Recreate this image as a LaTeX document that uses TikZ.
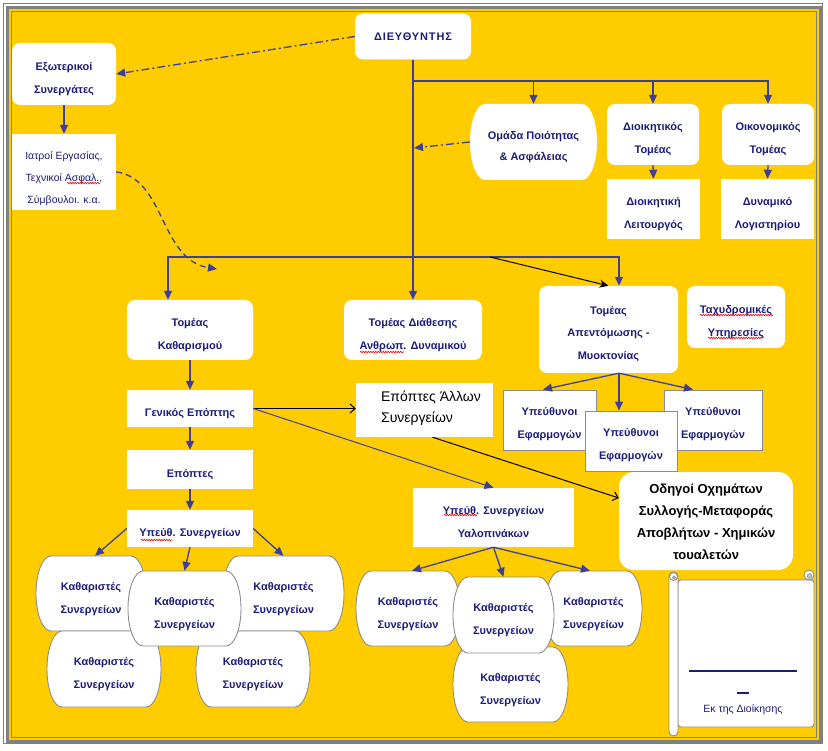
\documentclass[tikz,border=0pt]{standalone}
\usepackage{fontspec}
\setmainfont{Liberation Sans}
\newfontfamily\titlefnt[LetterSpace=8]{Liberation Sans}
\usetikzlibrary{arrows.meta,decorations.pathmorphing,calc}
\definecolor{bgyellow}{HTML}{FFCC00}
\definecolor{navytxt}{HTML}{1C1C7C}
\definecolor{arrblue}{HTML}{3F3F9A}
\definecolor{framegray}{HTML}{808080}
\definecolor{boxgray}{HTML}{8C8C8C}
\newcommand\barrelbox[7][]{%
 \pgfmathsetmacro\brlL{#3-#5/2}%
 \pgfmathsetmacro\brlR{#3+#5/2}%
 \pgfmathsetmacro\brlT{#4-#6/2}%
 \pgfmathsetmacro\brlB{#4+#6/2}%
 \pgfmathsetmacro\brlK{#6/2*0.5523}%
 \draw[barrelst,#1] (\brlL+15,\brlT) -- (\brlR-15,\brlT) .. controls (\brlR-6.7,\brlT) and (\brlR,#4-\brlK) .. (\brlR,#4) .. controls (\brlR,#4+\brlK) and (\brlR-6.7,\brlB) .. (\brlR-15,\brlB) -- (\brlL+15,\brlB) .. controls (\brlL+6.7,\brlB) and (\brlL,#4+\brlK) .. (\brlL,#4) .. controls (\brlL,#4-\brlK) and (\brlL+6.7,\brlT) .. cycle;
 \node[txt, minimum width=#5pt, minimum height=#6pt,#1] (#2) at (#3,#4) {#7};
}
\begin{document}
\begin{tikzpicture}[x=1pt,y=-1pt,
 txt/.style={align=center, inner sep=0pt, text=navytxt, font=\bfseries\fontsize{11}{23}\selectfont, text height=39pt, text depth=0pt},
 one/.style={text height=16pt},
 rbox/.style={txt, fill=white, rounded corners=8pt},
 wbox/.style={txt, fill=white},
 gbox/.style={txt, fill=white, draw=boxgray, line width=0.9pt},
 barrelst/.style={fill=white, draw=boxgray, line width=0.9pt},
 arr/.style={draw=arrblue, line width=1.3pt, -{Triangle[length=9pt,width=8pt]}},
 dd/.style={arr, dash pattern=on 8pt off 3pt on 2pt off 3pt},
 dsh/.style={arr, dash pattern=on 6pt off 4pt},
 blk/.style={draw=black, line width=1pt},
 blkopen/.style={blk, -{Straight Barb[length=5pt,width=9pt]}},
 spell/.style={draw=red, line width=0.6pt, decorate, decoration={snake, amplitude=0.8pt, segment length=2.5pt}},
 scrollst/.style={fill=white, draw=boxgray, line width=0.9pt}
]
\useasboundingbox (0,0) rectangle (828,751);
\fill[white] (0,0) rectangle (828,751);
\draw[framegray, line width=1.2pt] (3.5,3.5) rectangle (822.5,743.5);
\draw[framegray, line width=3pt] (7.5,7.5) rectangle (820,741);
\fill[bgyellow] (9,9) rectangle (818.5,739.5);
\draw[framegray, line width=0.9pt] (11.5,11.5) rectangle (816.5,737.5);

% top level
\node[rbox, minimum width=116pt, minimum height=46pt, font=\titlefnt\bfseries\fontsize{11}{12}\selectfont, text height=8pt, text depth=0pt] (dir) at (413,36.5) {ΔΙΕΥΘΥΝΤΗΣ};
\node[rbox, minimum width=104pt, minimum height=62pt] (ext) at (64,74) {Εξωτερικοί\\Συνεργάτες};
\node[wbox, minimum width=104pt, minimum height=76pt, font=\fontsize{10.5}{22}\selectfont, text height=63pt] (iat) at (64,172) {Ιατροί Εργασίας,\\Τεχνικοί Ασφαλ.,\\Σύμβουλοι. κ.α.};
\barrelbox[draw=none, font=\bfseries\fontsize{11}{21}\selectfont, text height=37pt]{qual}{533.5}{142}{127}{76}{Ομάδα Ποιότητας\\\& Ασφάλειας}
\node[rbox, minimum width=92pt, minimum height=61pt] (dioik) at (653,134.5) {Διοικητικός\\Τομέας};
\node[wbox, minimum width=93pt, minimum height=60pt] (dioikL) at (653.5,209) {Διοικητική\\Λειτουργός};
\node[rbox, minimum width=92pt, minimum height=61pt] (oik) at (768,134.5) {Οικονομικός\\Τομέας};
\node[wbox, minimum width=93pt, minimum height=60pt] (oikL) at (767.5,209) {Δυναμικό\\Λογιστηρίου};

% second level
\node[rbox, minimum width=126pt, minimum height=60pt] (kath) at (190,330) {Τομέας\\Καθαρισμού};
\node[rbox, minimum width=138pt, minimum height=60pt] (diath) at (413,330) {Τομέας Διάθεσης\\Ανθρωπ. Δυναμικού};
\node[rbox, minimum width=139pt, minimum height=87pt, font=\bfseries\fontsize{11}{22.5}\selectfont, text height=60pt] (apent) at (608.5,329.5) {Τομέας\\Απεντόμωσης -\\Μυοκτονίας};
\node[rbox, minimum width=98pt, minimum height=62pt] (tax) at (736,317) {Ταχυδρομικές\\Υπηρεσίες};

\node[gbox, minimum width=93pt, minimum height=60pt, text height=37pt] (ypL) at (549.5,420) {Υπεύθυνοι\\Εφαρμογών};
\node[gbox, minimum width=98pt, minimum height=60pt, text height=37pt] (ypR) at (713,420) {Υπεύθυνοι\\Εφαρμογών};
\node[gbox, minimum width=92pt, minimum height=60pt, text height=37pt] (ypM) at (631,441) {Υπεύθυνοι\\Εφαρμογών};

\node[wbox, one, minimum width=126pt, minimum height=37pt] (gen) at (190,408.5) {Γενικός Επόπτης};
\node[wbox, one, minimum width=126pt, minimum height=39pt] (epo) at (190,469.5) {Επόπτες};
\node[wbox, one, minimum width=126pt, minimum height=37pt] (ypsL) at (190,528.5) {Υπεύθ. Συνεργείων};
\node[fill=white, inner sep=0pt, minimum width=137pt, minimum height=54pt] (epAll) at (424.5,410) {};
\node[align=left, inner sep=0pt, text=black, font=\fontsize{14}{21}\selectfont] (epAllT) at (431,408) {Επόπτες Άλλων\\Συνεργείων};
\node[rbox, rounded corners=15pt, minimum width=174pt, minimum height=98pt, text=black, font=\bfseries\fontsize{13}{22}\selectfont, text height=77pt] (odig) at (706,521) {Οδηγοί Οχημάτων\\Συλλογής-Μεταφοράς\\Αποβλήτων - Χημικών\\τουαλετών};
\node[wbox, minimum width=161pt, minimum height=59pt] (ypsY) at (493.5,517.5) {Υπεύθ. Συνεργείων\\Υαλοπινάκων};

% left cluster
\barrelbox{l1}{91}{593.5}{110}{75}{Καθαριστές\\Συνεργείων}
\barrelbox{l2}{283.5}{593.5}{121}{75}{Καθαριστές\\Συνεργείων}
\barrelbox{l4}{104}{669}{114}{76}{Καθαριστές\\Συνεργείων}
\barrelbox{l5}{253}{669}{114}{76}{Καθαριστές\\Συνεργείων}
\barrelbox{l3}{184.5}{608.5}{113}{75}{Καθαριστές\\Συνεργείων}
% middle cluster
\barrelbox{m1}{408}{608.5}{104}{75}{Καθαριστές\\Συνεργείων}
\barrelbox{m2}{593.5}{608.5}{97}{75}{Καθαριστές\\Συνεργείων}
\barrelbox{m4}{510.5}{684.5}{115}{75}{Καθαριστές\\Συνεργείων}
\barrelbox{m3}{503.5}{615}{101}{76}{Καθαριστές\\Συνεργείων}

% scroll
\filldraw[scrollst, rounded corners=3pt] (678,580) rectangle (814,727);
\filldraw[scrollst] (809,575) circle (5pt);
\filldraw[boxgray!50, draw=boxgray, line width=0.6pt] (809.5,576) circle (2.3pt);
\filldraw[scrollst, rounded corners=4.5pt] (669,572) rectangle (678,736);
\filldraw[scrollst] (673.5,576.5) circle (4pt);
\filldraw[boxgray!50, draw=boxgray, line width=0.6pt] (674,577.5) circle (1.8pt);
\coordinate (sigA) at (689,671);
\coordinate (sigB) at (797,671);
\draw[navytxt, line width=1.3pt] (sigA) -- (sigB);
\draw[navytxt, line width=1.3pt] (737,693) -- (749,693);
\node[inner sep=0pt, text=navytxt, font=\fontsize{10.5}{12}\selectfont] (sig) at (743,710) {Εκ της Διοίκησης};

% connectors
\coordinate (busA) at (413,81);
\coordinate (busB) at (413,257);
\coordinate (qtip) at (414,148);
\coordinate (dashend) at (217,269);
\draw[arr] (dir.south) -- (diath.north);
\draw[arr] (busA) -| (oik.north);
\draw[arr] (busA -| qual.north) -- (qual.north);
\draw[arr] (busA -| dioik.north) -- (dioik.north);
\draw[arr] (busB) -| ([xshift=-22pt]kath.north);
\draw[arr] (busB) -| ([xshift=10.5pt]apent.north);
\draw[blk, -{Stealth[length=9pt,width=8pt]}] ([xshift=77pt]busB) -- (apent.north);
\draw[dd] (dir.west) -- (ext.east);
\draw[dd] (qual.west) -- (qtip);
\draw[arr] (ext.south) -- (iat.north);
\draw[dsh] (iat.east) .. controls (165,178) and (160,260) .. (dashend);
\draw[arr] (dioik.south) -- (dioikL.north);
\draw[arr] (oik.south) -- (oikL.north);
\draw[arr] (kath.south) -- (gen.north);
\draw[arr] (gen.south) -- (epo.north);
\draw[arr] (epo.south) -- (ypsL.north);
\draw[blkopen] (gen.east) -- (gen.east -| epAll.west);
\draw[arr, line width=1pt] (gen.east) -- (ypsY.north);
\draw[blkopen] ([xshift=8pt]epAll.south) -- ([yshift=23pt]odig.west);
\draw[arr] ([xshift=10.5pt]apent.south) -- ([xshift=-6.5pt]ypL.north);
\draw[arr] ([xshift=10.5pt]apent.south) -- ([xshift=-20pt]ypR.north);
\draw[arr] ([xshift=10.5pt]apent.south) -- ([xshift=10.5pt]apent.south |- ypM.north);
\draw[arr] (ypsL.west) -- ([xshift=4pt]l1.north);
\draw[arr] (ypsL.east) -- (l2.north);
\draw[arr] (ypsL.south) -- (l3.north);
\draw[arr] (ypsY.south) -- ([xshift=4pt]m1.north);
\draw[arr] (ypsY.south) -- (m3.north);
\draw[arr] (ypsY.south) -- ([xshift=-3.5pt]m2.north);

% spell-check marks
\draw[spell] (67,183) -- (100,183);
\draw[spell] (360,352) -- (404,352);
\draw[spell] (700,315) -- (773,315);
\draw[spell] (708,338) -- (763,338);
\draw[spell] (141,540) -- (172,540);
\draw[spell] (444,515) -- (477,515);
\end{tikzpicture}
\end{document}
